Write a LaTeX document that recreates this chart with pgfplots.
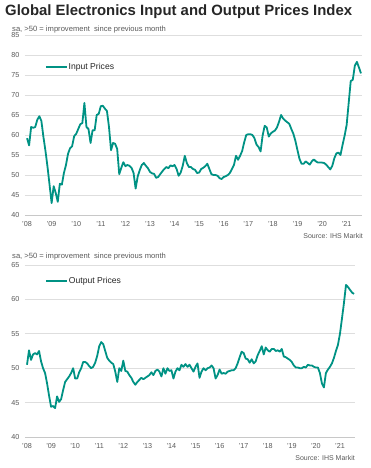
\documentclass[border=0pt]{standalone}
\usepackage{fontspec}
\setmainfont{Liberation Sans}
\usepackage{pgfplots}
\pgfplotsset{compat=1.18}
\usepackage{pgfplotstable}
\definecolor{ihsteal}{RGB}{0,146,132}
\definecolor{gridc}{RGB}{222,222,222}
\definecolor{axc}{RGB}{200,200,200}
\definecolor{txt}{RGB}{89,89,89}
\definecolor{titlec}{RGB}{38,38,38}

% Input Prices, monthly from Jan 2008 (index 0)
\pgfplotstableread{
v
59.2
57.4
62
61.8
62
63.8
64.7
63.5
59.5
56
52
47.5
43
47.2
45.5
43.3
47.8
47.6
50.5
52.5
55.3
56.7
57.2
59.7
60.3
61.5
62.7
63
68
62
61.5
58
61.2
61.2
65
65.3
67.2
67.3
66.6
66
62
56.2
58
57.8
56.5
50.2
51.8
53.2
52.2
52.5
52.3
51.8
50.5
46.6
49.6
51.2
52.5
53
52.3
51.7
50.8
50.4
50.3
49.3
49.5
50.2
50.9
51.5
52
51.7
52.4
52.2
52.5
51.5
49.8
50.6
52.3
54.8
53
52
52
51.5
51.3
50.5
50.6
51.5
51.8
52.2
52.8
51.5
50.2
50
50
49.8
49.2
49
49.5
49.7
50
50.5
51.5
52.5
54.8
53.8
54.8
56
58.2
60
60.2
60.2
60
59.2
57.6
57
55.9
59.9
62.3
61.9
59.6
60.4
60.8
61.1
61.9
63.3
65
64.1
63.6
63.2
62.8
61.5
60.3
58.5
56.2
54
52.8
52.8
53.4
53
52.6
53.4
53.9
53.4
53.1
53.1
53.1
53
52.6
52
51.4
52.3
54.2
55.4
55.6
55
57.5
59.8
62.5
68
73.5
73.8
77.3
78.3
76.9
75.4
}\inputdata

% Output Prices, monthly from Jan 2008 (index 0)
\pgfplotstableread{
v
50.5
52.6
51.2
52
52.2
52
52.5
51
50
49.3
47.8
46
44.4
44.5
44.2
45.9
45.1
45.5
46.8
48
48.4
48.8
49.3
50
48.5
48.5
49.4
50
50.9
50.9
50.7
50.3
50
50.2
50.8
51.8
53.2
53.8
53.5
52.5
51.5
51.1
50.8
50.6
49.5
48
50
49.6
51.1
49.6
49.5
49
48.6
48
47.6
48
48.3
48.6
48.4
48.6
48.8
49
49.4
49
49.6
49.8
49.5
48.8
50
49.2
50
49.6
49.7
48.5
49.5
50
49.7
50.5
50.2
50.6
50.2
50.5
50
49.5
50.2
50.7
48.6
49.5
50
49.7
50
50.1
50.4
50
48.5
49
49.8
49.2
49.3
49.2
49.5
49.6
49.7
49.7
50
50.7
51.6
52.4
52.2
51.4
51.3
50.8
51.3
50.7
51
51.9
52.5
53.2
52
53
52.6
52.4
52.8
52.8
52.5
52.6
52.4
52.8
51.7
51.6
51.4
51.2
50.9
50.4
50.1
50.1
50
50
50.2
50.1
50.5
50.4
50.4
50.2
50.1
50.1
49.3
47.8
47.2
49.3
49.8
50.2
50.7
51.5
52.5
53.4
55
57.2
59.5
62.1
61.8
61.4
61
60.8
}\outputdata

\pgfplotsset{
  ihsaxis/.style={
    scale only axis,
    anchor=south west,
    xmin=-1, xmax=163.5,
    xtick={0,12,...,156},
    xticklabels={'08,'09,'10,'11,'12,'13,'14,'15,'16,'17,'18,'19,'20,'21},
    ymajorgrids,
    grid style={gridc, line width=0.6pt},
    axis x line*=bottom,
    axis y line*=left,
    y axis line style={draw=none},
    x axis line style={axc, line width=0.8pt},
    major tick length=0pt,
    tick style={draw=none},
    /pgf/number format/assume math mode=true,
    yticklabel style={font=\fontsize{7.2}{8}\selectfont, text=txt, anchor=east, inner sep=0pt, xshift=-5.5pt},
    xticklabel style={font=\fontsize{7.2}{8}\selectfont, text=txt, anchor=north, inner sep=0pt, yshift=-6pt},
    legend image code/.code={\draw[#1, line width=1.8pt] (0pt,0pt) -- (21pt,0pt);},
    legend style={draw=none, fill=none, inner sep=0pt, outer sep=0pt, anchor=west,
      font=\fontsize{8.6}{10}\selectfont, text=titlec, nodes={inner xsep=1pt}},
    clip=false,
  }
}

\begin{document}
\begin{tikzpicture}
\path[use as bounding box] (0pt,0pt) rectangle (371pt,468pt);
\node[anchor=west, inner sep=0pt, text=titlec, font=\bfseries\fontsize{14.9}{16}\selectfont] at (5pt,456pt) {Global Electronics Input and Output Prices Index};
\node[anchor=west, inner sep=0pt, text=txt, font=\fontsize{7.6}{8}\selectfont] at (12pt,438.5pt) {sa, >50 = improvement \ since previous month};
\node[anchor=west, inner sep=0pt, text=txt, font=\fontsize{7.6}{8}\selectfont] at (12pt,211pt) {sa, >50 = improvement \ since previous month};
\node[anchor=east, inner sep=0pt, text=txt, font=\fontsize{7}{8}\selectfont] at (363pt,232pt) {Source: IHS Markit};
\node[anchor=east, inner sep=0pt, text=txt, font=\fontsize{7}{8}\selectfont] at (355pt,10pt) {Source: IHS Markit};

\begin{axis}[ihsaxis, at={(25pt,253pt)}, width=337pt, height=180pt,
  ymin=40, ymax=85, ytick={40,45,...,85},
  legend style={at={(0.059,0.822)}}]
\addplot[ihsteal, line width=1.8pt, no marks, line join=round] table[x expr=\coordindex, y=v] {\inputdata};
\addlegendentry{Input Prices}
\end{axis}

\begin{axis}[ihsaxis, at={(25pt,31pt)}, width=330pt, height=172pt,
  ymin=40, ymax=65, ytick={40,45,...,65},
  legend style={at={(0.061,0.907)}}]
\addplot[ihsteal, line width=1.8pt, no marks, line join=round] table[x expr=\coordindex, y=v] {\outputdata};
\addlegendentry{Output Prices}
\end{axis}
\end{tikzpicture}
\end{document}
